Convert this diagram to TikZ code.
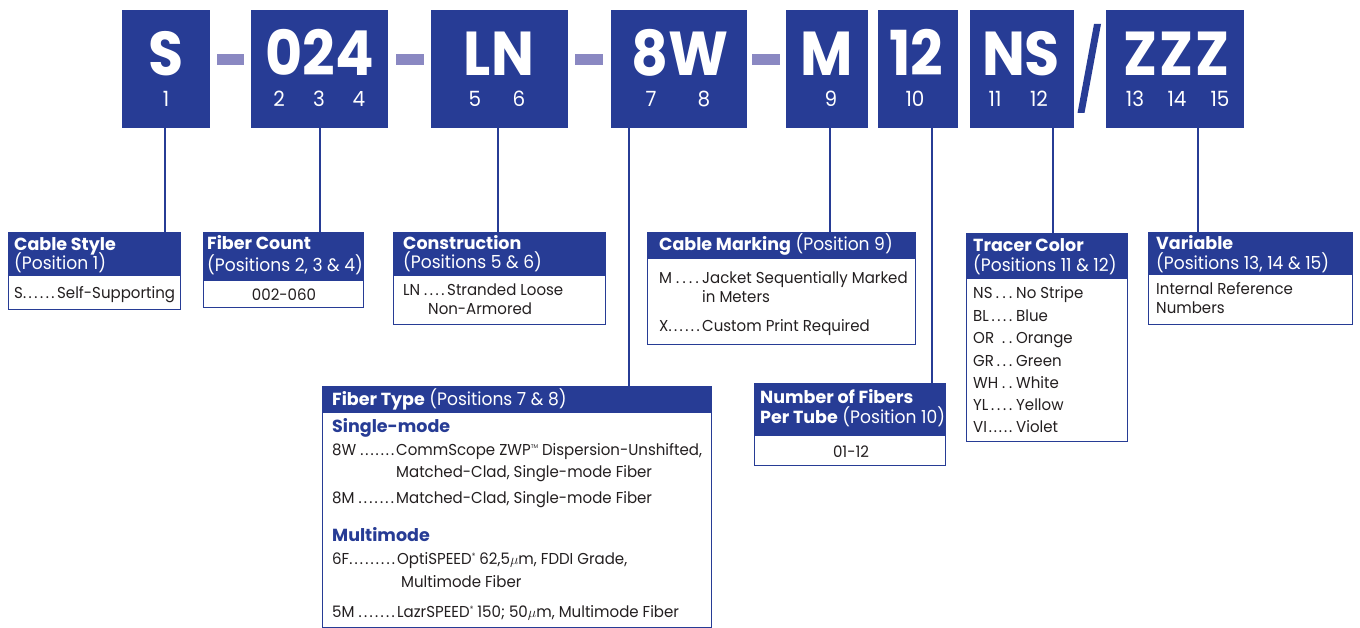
\documentclass[tikz,border=0pt]{standalone}
\usepackage{fontspec}
\setmainfont{Poppins}[UprightFeatures={FakeStretch=0.95}, BoldFeatures={FakeStretch=1.0}]
\newfontfamily\bigfont{Poppins}[FakeStretch=0.92]
\definecolor{cblue}{HTML}{273C95}
\definecolor{dashc}{HTML}{8A88C2}
\definecolor{txt}{HTML}{231F20}
\newcommand\hdrf{\fontsize{18}{19}\selectfont}
\newcommand\hdrb{\fontsize{17.5}{19}\selectfont\bfseries}
\newcommand\bodyf{\fontsize{15.8}{20}\selectfont}
\newcommand\regm{\raisebox{6pt}{\fontsize{7.5}{7.5}\selectfont ®}}
\newcommand\tmm{\raisebox{6.5pt}{\fontsize{5.5}{6}\selectfont TM}}
\newcommand\mum{$\mu$}
% code + leader dots spread evenly over a box of given width
\makeatletter
\newcommand\spreaddots[1]{\@tfor\@dd:=#1\do{\@dd\hspace{0pt plus 1fill}}}
\newcommand\spreaddotsb[1]{\@tfor\@dd:=#1\do{\hspace{0pt plus 1fill}\@dd}}
\makeatother
\newcommand\cd[3]{\makebox[#1][l]{#2\spreaddots{#3}}}
% code + dots spread, last dot flush, then a small fixed gap
\newcommand\cdt[3]{\makebox[#1][l]{#2\spreaddotsb{#3}}\hspace{4pt}}
\tikzset{
  codebox/.style={fill=cblue, draw=none, anchor=north west, inner sep=0, minimum height=118pt},
  bigtxt/.style={anchor=base, inner sep=0, text=white, text depth=0pt, font=\bigfont\bfseries\fontsize{62}{62}\selectfont},
  postxt/.style={anchor=base, inner sep=0, text=white, text height=15pt, text depth=0pt, font=\fontsize{21}{21}\selectfont},
  hdr/.style={fill=cblue, draw=cblue, line width=1.2pt, anchor=north west, inner sep=0},
  bdy/.style={fill=white, draw=cblue, line width=1.2pt, anchor=north west, inner sep=0},
  htxt/.style={anchor=base west, inner sep=0, text=white, font=\hdrf},
  hbtxt/.style={anchor=base west, inner sep=0, text=white, font=\hdrb},
  btxt/.style={anchor=base west, inner sep=0, text=txt, font=\bodyf},
  ctxt/.style={anchor=base, inner sep=0, text=txt, font=\bodyf},
  subhd/.style={anchor=base west, inner sep=0, text=cblue, font=\hdrb},
  conn/.style={draw=cblue, line width=2pt},
  dashbar/.style={fill=dashc, draw=none},
}
\begin{document}
\begin{tikzpicture}[x=1pt,y=-1pt]
\useasboundingbox (0,0) rectangle (1360,628);
\fill[white] (0,0) rectangle (1360,628);
% ---------- code boxes ----------
\node[codebox, minimum width=88pt] (b1) at (122,10) {};
\node[codebox, minimum width=137pt] (b2) at (251,10) {};
\node[codebox, minimum width=137pt] (b5) at (431,10) {};
\node[codebox, minimum width=136pt] (b7) at (611,10) {};
\node[codebox, minimum width=82pt] (b9) at (786,10) {};
\node[codebox, minimum width=80pt] (b10) at (878,10) {};
\node[codebox, minimum width=104pt] (b11) at (970,10) {};
\node[codebox, minimum width=138pt] (b13) at (1106,10) {};
% dashes and slash
\fill[dashbar] (217,54) rectangle (244,65);
\fill[dashbar] (396,54) rectangle (424,65);
\fill[dashbar] (575,54) rectangle (603,65);
\fill[dashbar] (752,54) rectangle (780,65);
\fill[cblue] (1094,24) -- (1101,24) -- (1084.5,113) -- (1077.5,113) -- cycle;
% big letters
\node[bigtxt] (t1) at (166,76) {S};
\node[bigtxt] (t2) at (319.5,76) {024};
\node[bigtxt] (t5) at (499,76) {LN};
\node[bigtxt] (t7) at (680,76) {8W};
\node[bigtxt] (t9) at (827,76) {M};
\node[bigtxt] (t10) at (916,76) {12};
\node[bigtxt] (t11) at (1021,76) {NS};
\node[bigtxt] (t13) at (1176,76) {Z\kern2pt Z\kern2pt Z};
% position numbers
\node[postxt] (p1) at (166,107) {1};
\node[postxt] (p2) at (279,107) {2};
\node[postxt] (p3) at (319,107) {3};
\node[postxt] (p4) at (359,107) {4};
\node[postxt] (p5) at (475,107) {5};
\node[postxt] (p6) at (519,107) {6};
\node[postxt] (p7) at (651,107) {7};
\node[postxt] (p8) at (704,107) {8};
\node[postxt] (p9) at (831,107) {9};
\node[postxt] (p10) at (915,107) {10};
\node[postxt] (p11) at (995,107) {11};
\node[postxt] (p12) at (1039,107) {12};
\node[postxt] (p13) at (1135,107) {13};
\node[postxt] (p14) at (1177,107) {14};
\node[postxt] (p15) at (1220,107) {15};
% ---------- detail boxes ----------
% Cable Style
\node[bdy, minimum width=172pt, minimum height=34pt] (csb) at (8,275) {};
\node[hdr, minimum width=172pt, minimum height=43pt] (csh) at (8,232) {};
\node[hbtxt] (cs1) at (14,251) {Cable Style};
\node[htxt] (cs2) at (14,270) {(Position 1)};
\node[btxt] (cs3) at (14,299) {\cd{43pt}{S}{......}Self-Supporting};
% Fiber Count
\node[bdy, minimum width=160pt, minimum height=27pt] (fcb) at (203,280) {};
\node[hdr, minimum width=160pt, minimum height=48pt] (fch) at (203,232) {};
\node[hbtxt] (fc1) at (207,250) {Fiber Count};
\node[htxt] (fc2) at (207,272) {(Positions 2, 3 \& 4)};
\node[ctxt] (fc3) at (284,301) {002-060};
% Construction
\node[bdy, minimum width=212pt, minimum height=49pt] (cob) at (393,275) {};
\node[hdr, minimum width=212pt, minimum height=43pt] (coh) at (393,232) {};
\node[hbtxt] (co1) at (403,250) {Construction};
\node[htxt] (co2) at (403,269) {(Positions 5 \& 6)};
\node[btxt] (co3) at (403,296) {\cd{44pt}{LN\ }{....}Stranded Loose};
\node[btxt] (co4) at (428,315) {Non-Armored};
% Cable Marking
\node[bdy, minimum width=268pt, minimum height=86pt] (cmb) at (647,258) {};
\node[hdr, minimum width=268pt, minimum height=26pt] (cmh) at (647,232) {};
\node[htxt] (cm1) at (659,251) {{\hdrb Cable Marking} (Position 9)};
\node[btxt] (cm2) at (659,284) {\cd{43pt}{M\ }{....}Jacket Sequentially Marked};
\node[btxt] (cm3) at (702,303) {in Meters};
\node[btxt] (cm4) at (659,331) {\cd{43pt}{X}{......}Custom Print Required};
% Tracer Color
\node[bdy, minimum width=161pt, minimum height=163pt] (tcb) at (966,278) {};
\node[hdr, minimum width=161pt, minimum height=45pt] (tch) at (966,233) {};
\node[hbtxt] (tc1) at (973,252) {Tracer Color};
\node[htxt] (tc2) at (973,272) {(Positions 11 \& 12)};
\node[btxt] (tc3) at (973,299) {\cdt{39pt}{NS}{...}No Stripe};
\node[btxt] (tc4) at (973,321) {\cdt{39pt}{BL}{....}Blue};
\node[btxt] (tc5) at (973,343) {\cdt{39pt}{OR\ }{..}Orange};
\node[btxt] (tc6) at (973,366) {\cdt{39pt}{GR}{...}Green};
\node[btxt] (tc7) at (973,388) {\cdt{39pt}{WH}{..}White};
\node[btxt] (tc8) at (973,410) {\cdt{39pt}{YL}{....}Yellow};
\node[btxt] (tc9) at (973,432) {\cdt{39pt}{VI}{.....}Violet};
% Variable
\node[bdy, minimum width=204pt, minimum height=50pt] (vab) at (1148,274) {};
\node[hdr, minimum width=204pt, minimum height=42pt] (vah) at (1148,232) {};
\node[hbtxt] (va1) at (1156,250) {Variable};
\node[htxt] (va2) at (1156,270) {(Positions 13, 14 \& 15)};
\node[btxt] (va3) at (1156,295) {Internal Reference};
\node[btxt] (va4) at (1156,314) {Numbers};
% Fiber Type
\node[bdy, minimum width=389pt, minimum height=215pt] (ftb) at (322,412) {};
\node[hdr, minimum width=389pt, minimum height=26pt] (fth) at (322,386) {};
\node[htxt] (ft1) at (332,405) {{\hdrb Fiber Type} (Positions 7 \& 8)};
\node[subhd] (ft2) at (332,432) {Single-mode};
\node[btxt] (ft3) at (332,455) {\cd{64pt}{8W\ }{.......}CommScope ZWP\tmm\ Dispersion-Unshifted,};
\node[btxt] (ft4) at (396,477) {Matched-Clad, Single-mode Fiber};
\node[btxt] (ft5) at (332,503) {\cd{64pt}{8M\ }{.......}Matched-Clad, Single-mode Fiber};
\node[subhd] (ft6) at (332,541) {Multimode};
\node[btxt] (ft7) at (332,564) {\cd{65pt}{6F}{.........}OptiSPEED\regm\ 62,5\mum m, FDDI Grade,};
\node[btxt] (ft8) at (401,587) {Multimode Fiber};
\node[btxt] (ft9) at (332,617) {\cd{65pt}{5M\ }{.......}LazrSPEED\regm\ 150; 50\mum m, Multimode Fiber};
% Number of Fibers
\node[bdy, minimum width=191pt, minimum height=30pt] (nfb) at (754,435) {};
\node[hdr, minimum width=191pt, minimum height=52pt] (nfh) at (754,383) {};
\node[hbtxt] (nf1) at (760,403) {Number of Fibers};
\node[htxt] (nf2) at (760,423) {{\hdrb Per Tube} (Position 10)};
\node[ctxt] (nf3) at (851,457) {01-12};
% ---------- connectors ----------
\coordinate (k7) at (629,128);
\coordinate (k9) at (830,128);
\coordinate (k10) at (931.5,128);
\coordinate (k11) at (1052.5,128);
\coordinate (k13) at (1198,128);
\draw[conn] (b1.south -| 165,0) -- (csh.north -| 165,0);
\draw[conn] (b2.south) -- (b2.south |- fch.north);
\draw[conn] (b5.south -| 498,0) -- (coh.north -| 498,0);
\draw[conn] (b7.south -| k7) -- (k7 |- fth.north);
\draw[conn] (b9.south -| k9) -- (k9 |- cmh.north);
\draw[conn] (b10.south -| k10) -- (k10 |- nfh.north);
\draw[conn] (b11.south -| k11) -- (k11 |- tch.north);
\draw[conn] (b13.south -| k13) -- (k13 |- vah.north);
\end{tikzpicture}
\end{document}
